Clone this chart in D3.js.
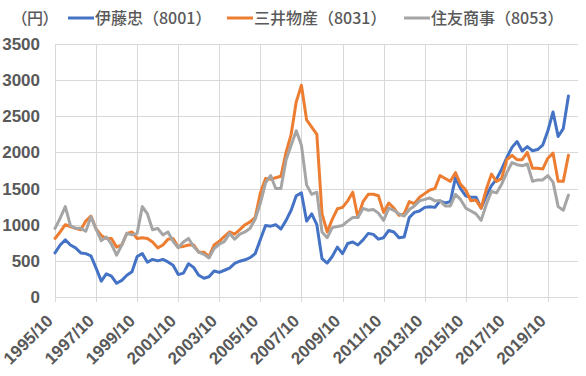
<html>
<style>
body { margin: 0; background: #fff; }
svg { display: block; }
.grid line { stroke: #d9d9d9; stroke-width: 1; shape-rendering: crispEdges; }
.lbl { font: bold 17px "Liberation Sans", "Noto Sans CJK JP", sans-serif; fill: #595959; }
.leg { font: 500 16px "Noto Sans CJK JP", sans-serif; fill: #595959; }
</style>
<body>
<svg width="586" height="376"></svg>
<script src="https://d3js.org/d3.v7.min.js"></script>
<script>

// quarterly closes, 1995/10 .. 2020/10
var startMonth = new Date(1995, 9, 1);
var names = ["伊藤忠（8001）", "三井物産（8031）", "住友商事（8053）"];
var colors = ["#4472c4", "#ed7d31", "#a5a5a5"];
var unitLabel = "（円）";
var yTicks = [0, 500, 1000, 1500, 2000, 2500, 3000, 3500];
var xTickLabels = ["1995/10", "1997/10", "1999/10", "2001/10", "2003/10", "2005/10", "2007/10",
                   "2009/10", "2011/10", "2013/10", "2015/10", "2017/10", "2019/10"];

var itochu = [
  610, 720, 790, 720, 680, 610, 600, 570, 400, 220,
  320, 290, 190, 230, 300, 350, 560, 600, 480, 520,
  500, 520, 485, 440, 310, 330, 460, 410, 300, 260,
  280, 360, 340, 370, 400, 465, 495, 515, 545, 600,
  795, 990, 980, 1000, 940, 1060, 1200, 1400, 1440, 1050,
  1150, 1000, 530, 470, 560, 690, 600, 740, 760, 720,
  790, 880, 866, 800, 820, 920, 900, 820, 830, 1100,
  1170, 1190, 1240, 1250, 1240, 1330, 1300, 1320, 1650, 1500,
  1400, 1380, 1380, 1230, 1400, 1540, 1630, 1770, 1930, 2070,
  2150, 2020, 2080, 2023, 2040, 2100, 2300, 2560, 2220, 2330,
  2780
];
var mitsui = [
  810, 900, 1000, 975, 950, 930, 1050, 1120, 940, 850,
  810, 810, 690, 720, 880, 900, 810, 820, 810, 760,
  680, 720, 800, 810, 690, 700, 720, 720, 620, 620,
  560, 720, 770, 840, 900, 870, 933, 1000, 1040, 1100,
  1440, 1640, 1630, 1650, 1670, 2000, 2250, 2700, 2930, 2450,
  2350, 2250, 1150, 900, 1074, 1220, 1240, 1330, 1450, 1100,
  1320, 1420, 1421, 1400, 1170, 1300, 1230, 1130, 1150, 1320,
  1290, 1380, 1430, 1480, 1500, 1680, 1640, 1600, 1720, 1560,
  1480, 1330, 1340, 1230, 1490, 1700, 1600, 1640, 1900, 1960,
  1900, 1900, 2000, 1780, 1780, 1770, 1920, 1990, 1600, 1600,
  1960
];
var sumitomo = [
  950, 1090, 1250, 990, 950, 950, 910, 1110, 940, 780,
  830, 730, 580, 720, 880, 860, 880, 1250, 1150, 930,
  950, 860, 900, 770, 680, 760, 810, 700, 620, 590,
  540, 670, 730, 770, 880, 800, 870, 900, 950, 1080,
  1300, 1580, 1680, 1500, 1500, 1900, 2100, 2300, 2100, 1550,
  1420, 1450, 900, 820, 960, 975, 990, 1050, 1100, 1100,
  1225, 1200, 1210, 1160, 1060, 1230, 1200, 1150, 1120, 1210,
  1260, 1330, 1350, 1370, 1330, 1330, 1260, 1260, 1420, 1350,
  1230, 1190, 1150, 1060, 1280, 1460, 1440, 1560, 1720, 1860,
  1830, 1815, 1840, 1600, 1620, 1620, 1680, 1590, 1250, 1200,
  1410
];

var series = [itochu, mitsui, sumitomo];
var dates = itochu.map((d, i) => d3.timeMonth.offset(startMonth, i * 3));

var svg = d3.select("svg"),
    margin = {top: 44, right: 8, bottom: 79, left: 55},
    width = +svg.attr("width") - margin.left - margin.right,
    height = +svg.attr("height") - margin.top - margin.bottom;

var x = d3.scaleTime()
    .domain([startMonth, new Date(2021, 2, 20)])
    .range([margin.left, margin.left + width]);
var y = d3.scaleLinear()
    .domain([0, 3500])
    .range([margin.top + height, margin.top]);

var xTicks = xTickLabels.map((d, i) => d3.timeMonth.offset(startMonth, i * 24));

// grid
var grid = svg.append("g").attr("class", "grid");
grid.selectAll(".h").data(yTicks).enter().append("line")
    .attr("x1", margin.left).attr("x2", margin.left + width)
    .attr("y1", d => Math.round(y(d)) + 0.5).attr("y2", d => Math.round(y(d)) + 0.5);
grid.selectAll(".v").data(xTicks).enter().append("line")
    .attr("x1", d => Math.round(x(d)) + 0.5).attr("x2", d => Math.round(x(d)) + 0.5)
    .attr("y1", margin.top).attr("y2", margin.top + height + 5);

// y labels
svg.append("g").selectAll("text").data(yTicks).enter().append("text")
    .attr("class", "lbl")
    .attr("x", 40)
    .attr("y", d => y(d))
    .attr("dy", "0.35em")
    .attr("text-anchor", "end")
    .text(d => d);

// x labels
svg.append("g").selectAll("text").data(xTicks).enter().append("text")
    .attr("class", "lbl")
    .attr("text-anchor", "end")
    .attr("transform", d => "translate(" + (x(d) - 1) + "," + (margin.top + height + 25) + ") rotate(-45)")
    .text((d, i) => xTickLabels[i]);

// lines
var line = d3.line()
    .x((d, i) => x(dates[i]))
    .y(d => y(d));

svg.append("g").selectAll("path").data(series).enter().append("path")
    .attr("d", line)
    .attr("fill", "none")
    .attr("stroke", (d, i) => colors[i])
    .attr("stroke-width", 3)
    .attr("stroke-linejoin", "round")
    .attr("stroke-linecap", "round");

// legend
svg.append("text")
    .attr("class", "leg")
    .style("font-feature-settings", "'palt'")
    .attr("x", 19).attr("y", 24)
    .text(unitLabel);

var legX = [68, 227, 404];
var leg = svg.append("g").selectAll("g").data(names).enter().append("g")
    .attr("transform", (d, i) => "translate(" + legX[i] + ",0)");
leg.append("line")
    .attr("x1", 0).attr("x2", 26).attr("y1", 18).attr("y2", 18)
    .attr("stroke", (d, i) => colors[i]).attr("stroke-width", 3);
leg.append("text")
    .attr("class", "leg")
    .attr("x", 27).attr("y", 24)
    .text(d => d);

</script>
</body>
</html>
